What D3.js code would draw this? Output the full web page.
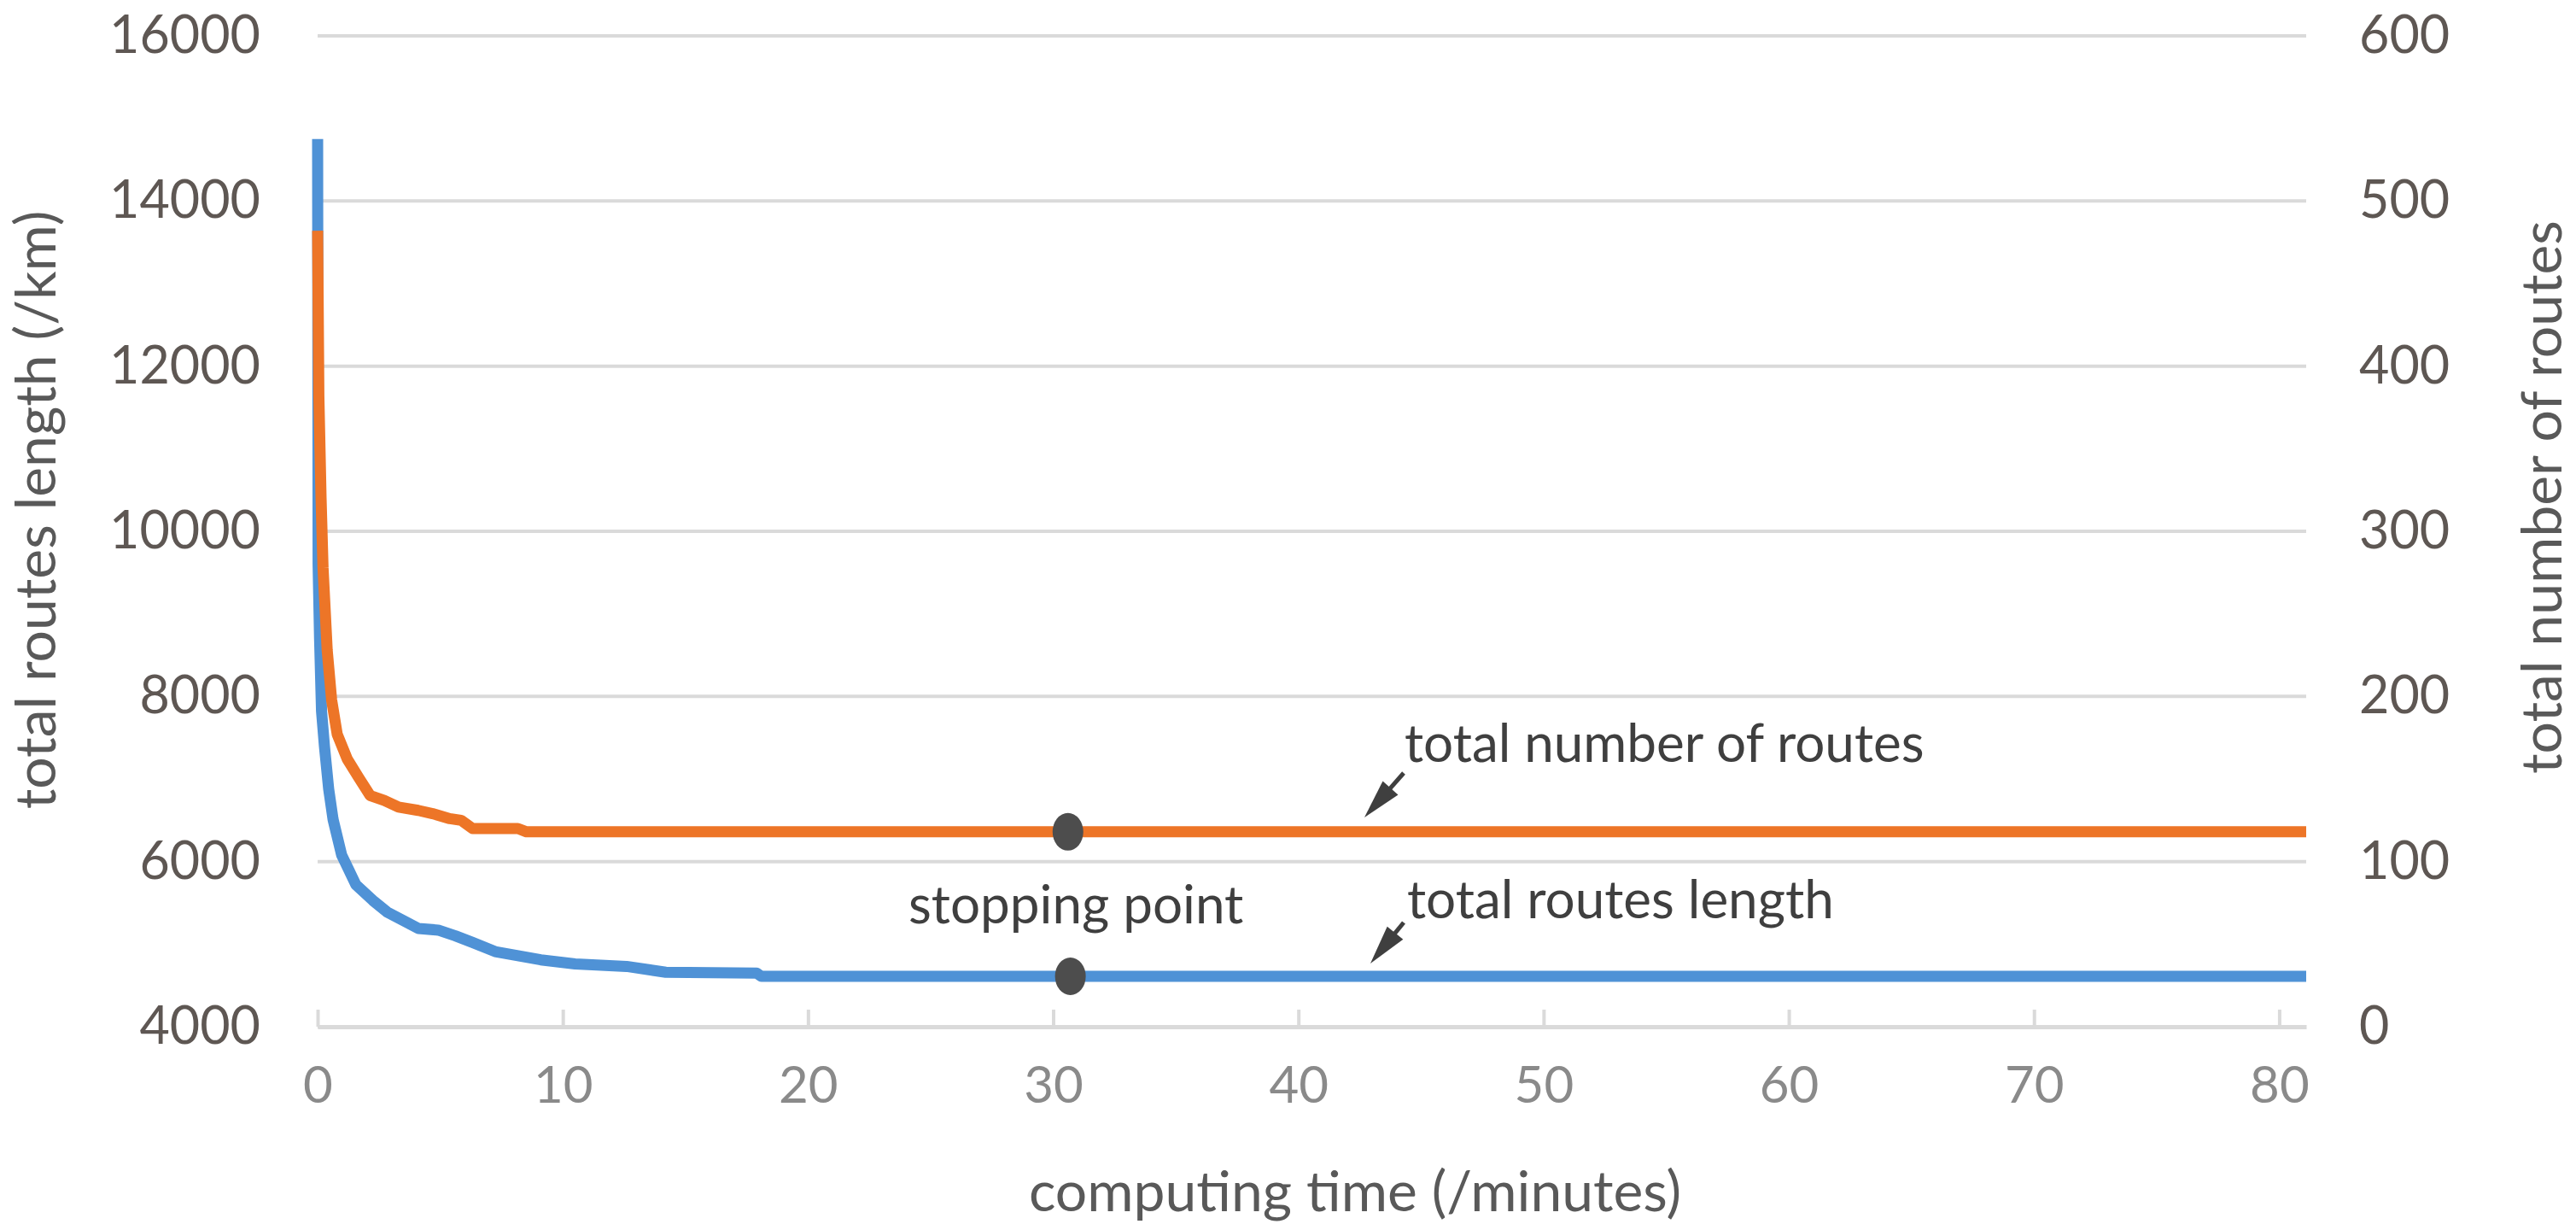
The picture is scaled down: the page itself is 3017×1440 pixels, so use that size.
<!DOCTYPE html>
<html>
<head>
<meta charset="utf-8">
<script src="https://cdn.jsdelivr.net/npm/d3@7"></script>
<style>
  body { margin: 0; background: #fff; }
  text { font-family: Lato, "Open Sans", sans-serif; }
</style>
</head>
<body>
<div id="chart"></div>
<script>
// DATA ---------------------------------------------------------------------
const timeTicks = [0, 10, 20, 30, 40, 50, 60, 70, 80];
const lengthTicks = [4000, 6000, 8000, 10000, 12000, 14000, 16000];
const routesTicks = [0, 100, 200, 300, 400, 500, 600];

// total routes length (/km), left axis
const lengthTime = [0, 0.02, 0.08, 0.16, 0.28, 0.45, 0.63, 0.98, 1.56, 2.25, 2.83, 3.53, 4.11, 4.92, 5.62, 6.32, 7.24, 8.17, 9.1, 10.5, 12.6, 14.2, 17.9, 18.1, 81.1];
const lengthValues = [14750, 9600, 8700, 7820, 7390, 6880, 6510, 6080, 5720, 5530, 5390, 5280, 5190, 5170, 5100, 5020, 4910, 4860, 4810, 4760, 4730, 4660, 4650, 4610, 4610];

// total number of routes, right axis
const routesTime = [0, 0.05, 0.14, 0.22, 0.39, 0.57, 0.8, 1.21, 1.67, 2.14, 2.72, 3.3, 4.1, 4.69, 5.39, 5.85, 6.32, 8.17, 8.52, 81.1];
const routesValues = [482, 382, 320, 278, 228, 198, 177, 162, 151, 140, 137, 133, 131, 129, 126, 125, 120, 120, 118, 118];

const stopTime = 30.6;
const timeMax = 81.1;

// SETTINGS ---------------------------------------------------------------------
const width = 3017, height = 1440;
const plot = { left: 372, right: 2701, top: 42, bottom: 1202 };
const colors = { length: '#4f92d6', routes: '#ed7527', grid: '#dadada', dark: '#3f3f3f' };

const svg = d3.select('#chart').append('svg')
    .attr('width', width)
    .attr('height', height);

svg.append('rect').attr('width', width).attr('height', height).attr('fill', '#fff');

// SCALES ---------------------------------------------------------------------
const x = d3.scaleLinear().domain([0, timeMax]).range([plot.left, plot.right]);
const yLength = d3.scaleLinear().domain([4000, 16000]).range([plot.bottom, plot.top]);
const yRoutes = d3.scaleLinear().domain([0, 600]).range([plot.bottom, plot.top]);

// GRID + AXES ---------------------------------------------------------------------
svg.append('g')
    .selectAll('line').data(lengthTicks).join('line')
    .attr('x1', plot.left).attr('x2', plot.right)
    .attr('y1', d => yLength(d)).attr('y2', d => yLength(d))
    .attr('stroke', colors.grid).attr('stroke-width', 4);

const xAxis = svg.append('g')
    .attr('transform', `translate(0, ${plot.bottom})`)
    .call(d3.axisBottom(x).tickValues(timeTicks).tickSizeInner(-20).tickSizeOuter(0).tickPadding(46));
xAxis.select('.domain').attr('stroke', colors.grid).attr('stroke-width', 5);
xAxis.selectAll('.tick line').attr('stroke', colors.grid).attr('stroke-width', 4);
xAxis.selectAll('.tick text')
    .attr('font-size', 60).attr('fill', '#8a8a8a')
    .attr('font-family', 'Lato, sans-serif');

const leftAxis = svg.append('g')
    .attr('transform', `translate(${plot.left}, 0)`)
    .call(d3.axisLeft(yLength).tickValues(lengthTicks).tickSize(0).tickPadding(67).tickFormat(d3.format('d')));
leftAxis.select('.domain').remove();
leftAxis.selectAll('.tick text')
    .attr('font-size', 61).attr('fill', '#5e5753')
    .attr('font-family', 'Lato, sans-serif');

const rightAxis = svg.append('g')
    .attr('transform', `translate(${plot.right}, 0)`)
    .call(d3.axisRight(yRoutes).tickValues(routesTicks).tickSize(0).tickPadding(62));
rightAxis.select('.domain').remove();
rightAxis.selectAll('.tick text')
    .attr('font-size', 61).attr('fill', '#5e5753')
    .attr('font-family', 'Lato, sans-serif');

// AXIS TITLES ---------------------------------------------------------------------
svg.append('text')
    .attr('transform', 'translate(65, 597) rotate(-90)')
    .attr('text-anchor', 'middle')
    .attr('font-size', 66).attr('fill', '#595959')
    .text('total routes length (/km)');

svg.append('text')
    .attr('transform', 'translate(3000, 582) rotate(-90)')
    .attr('text-anchor', 'middle')
    .attr('font-size', 66).attr('fill', '#595959')
    .text('total number of routes');

svg.append('text')
    .attr('x', 1587).attr('y', 1418)
    .attr('text-anchor', 'middle')
    .attr('font-size', 66).attr('fill', '#595959')
    .text('computing time (/minutes)');

// LINES ---------------------------------------------------------------------
const lengthData = lengthTime.map((t, i) => ({ t, v: lengthValues[i] }));
const routesData = routesTime.map((t, i) => ({ t, v: routesValues[i] }));

svg.append('path')
    .datum(lengthData)
    .attr('fill', 'none')
    .attr('stroke', colors.length)
    .attr('stroke-width', 13)
    .attr('stroke-linejoin', 'round')
    .attr('d', d3.line().x(d => x(d.t)).y(d => yLength(d.v)));

svg.append('path')
    .datum(routesData)
    .attr('fill', 'none')
    .attr('stroke', colors.routes)
    .attr('stroke-width', 13)
    .attr('stroke-linejoin', 'round')
    .attr('d', d3.line().x(d => x(d.t)).y(d => yRoutes(d.v)));

// STOPPING POINTS ---------------------------------------------------------------------
const lengthAtStop = lengthValues[lengthValues.length - 1];
const routesAtStop = routesValues[routesValues.length - 1];

svg.append('ellipse')
    .attr('cx', x(stopTime)).attr('cy', yRoutes(routesAtStop))
    .attr('rx', 18).attr('ry', 22).attr('fill', '#4d4d4d');

svg.append('ellipse')
    .attr('cx', x(stopTime + 0.1)).attr('cy', yLength(lengthAtStop))
    .attr('rx', 18).attr('ry', 22).attr('fill', '#4d4d4d');

// ANNOTATIONS ---------------------------------------------------------------------
const arrows = [
    { x1: 1644, y1: 905, x2: 1598, y2: 957 },
    { x1: 1644, y1: 1080, x2: 1605, y2: 1128 }
];
const arrowG = svg.append('g')
    .selectAll('g').data(arrows).join('g');

arrowG.append('line')
    .attr('x1', d => d.x1).attr('y1', d => d.y1)
    .attr('x2', d => d.x1 + (d.x2 - d.x1) * 0.4).attr('y2', d => d.y1 + (d.y2 - d.y1) * 0.4)
    .attr('stroke', colors.dark).attr('stroke-width', 5);

// filled head, drawn along the arrow direction
arrowG.append('path')
    .attr('fill', colors.dark)
    .attr('d', d => {
        const len = Math.hypot(d.x2 - d.x1, d.y2 - d.y1);
        const ux = (d.x2 - d.x1) / len, uy = (d.y2 - d.y1) / len;
        const headLen = 46, half = 12;
        const bx = d.x2 - ux * headLen, by = d.y2 - uy * headLen;
        const nx = -uy, ny = ux;
        return `M${d.x2},${d.y2} L${bx + nx * half},${by + ny * half} L${bx - nx * half},${by - ny * half} Z`;
    });

const notes = [
    { text: 'total number of routes', x: 1645, y: 892 },
    { text: 'total routes length', x: 1648, y: 1075 },
    { text: 'stopping point', x: 1064, y: 1081 }
];
svg.append('g')
    .selectAll('text').data(notes).join('text')
    .attr('x', d => d.x).attr('y', d => d.y)
    .attr('font-size', 62).attr('fill', colors.dark)
    .text(d => d.text);
</script>
</body>
</html>
